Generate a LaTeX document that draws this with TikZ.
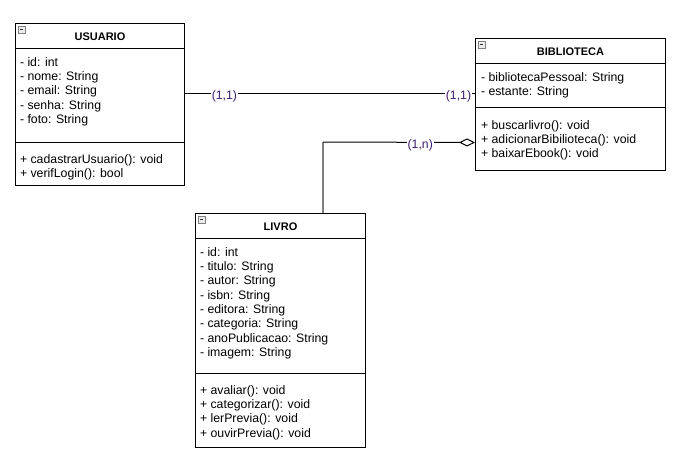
\documentclass[tikz,border=0pt]{standalone}
\usepackage{fontspec}
\setmainfont{Liberation Sans}
\usetikzlibrary{arrows.meta}

\definecolor{multcolor}{RGB}{60,30,110}

\tikzset{
  classbox/.style={draw, rectangle, line width=1pt, inner sep=0pt, anchor=north west},
  classname/.style={font=\fontsize{11}{13}\selectfont\bfseries, anchor=base, inner sep=0pt},
  member/.style={font=\fontsize{12.3}{14.3}\selectfont, anchor=base west, inner sep=0pt},
  mult/.style={font=\fontsize{12.3}{14.3}\selectfont, text=multcolor, fill=white, inner sep=0.8pt, yshift=-2.5pt},
  minusicon/.style={draw=black!50, fill=gray!15, line width=0.9pt},
}

\begin{document}
\begin{tikzpicture}[x=1pt, y=-1pt, line width=1pt]
	\fill[white] (0,0) rectangle (682,459);
	\useasboundingbox (0,0) rectangle (682,459);

	% class boxes
	\node[classbox, minimum width=169pt, minimum height=162pt] (usuario) at (15,23) {};
	\node[classbox, minimum width=190pt, minimum height=132pt] (biblioteca) at (475,38) {};
	\node[classbox, minimum width=170pt, minimum height=234pt] (livro) at (195,213) {};

	% compartments
	\draw (usuario.west |- 0,48) -- (usuario.east |- 0,48);
	\draw (usuario.west |- 0,142) -- (usuario.east |- 0,142);
	\draw (biblioteca.west |- 0,63) -- (biblioteca.east |- 0,63);
	\draw (biblioteca.west |- 0,107) -- (biblioteca.east |- 0,107);
	\draw (livro.west |- 0,238) -- (livro.east |- 0,238);
	\draw (livro.west |- 0,373) -- (livro.east |- 0,373);

	\foreach \b in {usuario, biblioteca, livro} {
		\draw[minusicon] ([xshift=3pt,yshift=-3pt]\b.north west) rectangle ++(7pt,-7pt);
		\draw[line width=1.8pt, black!80] ([xshift=5pt,yshift=-6.5pt]\b.north west) -- ++(3pt,0pt);
	}

	% names
	\node[classname] (usuario-name) at (usuario.north |- 0,40) {USUARIO};
	\node[classname] (biblioteca-name) at (biblioteca.north |- 0,55) {BIBLIOTECA};
	\node[classname] (livro-name) at (livro.north |- 0,230) {LIVRO};

	% USUARIO
	\foreach \t [count=\i from 0] in {- id: int, - nome: String, - email: String, - senha: String, - foto: String}
		\node[member] (usuario-a\i) at (19.5, 66+14.35*\i) {\t};
	\foreach \t [count=\i from 0] in {+ cadastrarUsuario(): void, + verifLogin(): bool}
		\node[member] (usuario-m\i) at (19.5, 163.5+14.35*\i) {\t};

	% BIBLIOTECA
	\foreach \t [count=\i from 0] in {- bibliotecaPessoal: String, - estante: String}
		\node[member] (biblioteca-a\i) at (480.5, 81.2+14.35*\i) {\t};
	\foreach \t [count=\i from 0] in {+ buscarlivro(): void, + adicionarBibilioteca(): void, + baixarEbook(): void}
		\node[member] (biblioteca-m\i) at (480.5, 129.2+14.35*\i) {\t};

	% LIVRO
	\foreach \t [count=\i from 0] in {- id: int, - titulo: String, - autor: String, - isbn: String, - editora: String, - categoria: String, - anoPublicacao: String, - imagem: String}
		\node[member] (livro-a\i) at (199.5, 256+14.35*\i) {\t};
	\foreach \t [count=\i from 0] in {+ avaliar(): void, + categorizar(): void, + lerPrevia(): void, + ouvirPrevia(): void}
		\node[member] (livro-m\i) at (199.5, 394.2+14.35*\i) {\t};

	% associations
	\draw ([yshift=11pt]usuario.east) -- node[mult, pos=0.136] (m-usuario) {(1,1)}
		node[mult, pos=0.943] (m-biblioteca) {(1,1)} ([yshift=11pt]biblioteca.west);

	\coordinate (bend) at (323,142);
	\draw[gray, line width=1.5pt] (bend) -- (livro.north -| bend);
	\draw[{Diamond[open, length=16pt, width=8pt]}-] ([yshift=-38pt]biblioteca.west) -- node[mult, pos=0.36] (m-livro) {(1,n)} (bend);
\end{tikzpicture}
\end{document}
